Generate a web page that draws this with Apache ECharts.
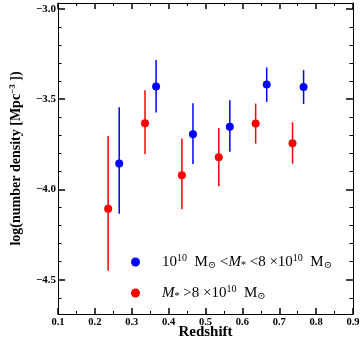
<!DOCTYPE html>
<html>
<head>
<meta charset="utf-8">
<script src="https://cdn.jsdelivr.net/npm/echarts@6/dist/echarts.min.js"></script>
<style>html,body{margin:0;padding:0;background:#fff}#c{width:363px;height:356px}</style>
</head>
<body>
<div id="c"></div>
<script>
// Data
const blueZ    = [0.266, 0.366, 0.466, 0.566, 0.666, 0.766];
const blueLogN = [-3.856, -3.429, -3.694, -3.652, -3.418, -3.433];
const blueLow  = [-4.135, -3.574, -3.859, -3.791, -3.515, -3.526];
const blueHigh = [-3.544, -3.283, -3.522, -3.506, -3.324, -3.339];
const redZ     = [0.236, 0.336, 0.436, 0.536, 0.636, 0.736];
const redLogN  = [-4.107, -3.633, -3.921, -3.822, -3.635, -3.744];
const redLow   = [-4.450, -3.804, -4.109, -3.982, -3.746, -3.857];
const redHigh  = [-3.704, -3.450, -3.718, -3.659, -3.524, -3.628];
const yMajorTicks = [-4.5, -4.0, -3.5, -3.0];
const yMinorTicks = [-4.6, -4.4, -4.3, -4.2, -4.1, -3.9, -3.8, -3.7, -3.6, -3.4, -3.3, -3.2, -3.1];
const blueName = 'blue';
const redName = 'red';

const serif = '"Liberation Serif", "DejaVu Serif", serif';
const BLUE = '#0000ff', RED = '#ff0000';
const yMin = -4.69, yMax = -2.967;

function pts(xs, ys) { return xs.map((x, i) => [x, ys[i]]); }
function bars(xs, lo, hi) { return xs.map((x, i) => [x, lo[i], hi[i]]); }
function errRender(color) {
  return function (params, api) {
    const a = api.coord([api.value(0), api.value(1)]);
    const b = api.coord([api.value(0), api.value(2)]);
    return { type: 'line', shape: { x1: a[0], y1: a[1], x2: b[0], y2: b[1] },
             style: { stroke: color, lineWidth: 1.5 } };
  };
}
const fmtY = v => v.toFixed(1).replace('-', '\u2212');
const baseY = {
  type: 'value', min: yMin, max: yMax, splitLine: { show: false },
  axisLine: { show: true, lineStyle: { color: '#000', width: 1 } }
};

const legendRich = {
  n: { fontFamily: serif, fontSize: 15, color: '#000' },
  it: { fontFamily: serif, fontSize: 15, fontStyle: 'italic', color: '#000' },
  sup: { fontFamily: serif, fontSize: 10, color: '#000', padding: [0, 0, 8, 0] },
  sub: { fontFamily: serif, fontSize: 10, color: '#000', padding: [6, 0, 0, 0] }
};

const chart = echarts.init(document.getElementById('c'), null, { renderer: 'canvas' });
chart.setOption({
  animation: false,
  grid: { left: 51, right: 10, top: 3, bottom: 42, containLabel: false },
  legend: {
    orient: 'vertical', left: 126, top: 248, itemGap: 14,
    itemWidth: 9, itemHeight: 9,
    data: [blueName, redName],
    formatter: function (name) {
      if (name === blueName) return '{n|10}{sup|10}{n|  M}{sub|\u2299}{n| <}{it|M}{sub|*}{n| <8 \u00d710}{sup|10}{n|  M}{sub|\u2299}';
      return '{it|M}{sub|*}{n| >8 \u00d710}{sup|10}{n|  M}{sub|\u2299}';
    },
    textStyle: { rich: legendRich, padding: [0, 0, 0, 17] }
  },
  xAxis: [
    { type: 'value', min: 0.1, max: 0.9, interval: 0.1, position: 'bottom',
      name: 'Redshift', nameLocation: 'middle', nameGap: 11, nameMoveOverlap: false,
      nameTextStyle: { fontFamily: serif, fontSize: 15, fontWeight: 'bold', color: '#000', verticalAlign: 'top' },
      splitLine: { show: false },
      axisLine: { show: true, onZero: false, lineStyle: { color: '#000', width: 1 } },
      axisTick: { show: true, inside: true, length: 6, lineStyle: { color: '#000', width: 1.5 } },
      minorTick: { show: true, splitNumber: 2, length: 3, lineStyle: { color: '#000', width: 1 } },
      axisLabel: { margin: 3, fontFamily: serif, fontSize: 10.5, fontWeight: 'bold', color: '#000',
                   formatter: v => v.toFixed(1) } },
    { type: 'value', min: 0.1, max: 0.9, interval: 0.1, position: 'top',
      splitLine: { show: false },
      axisLine: { show: true, onZero: false, lineStyle: { color: '#000', width: 1 } },
      axisTick: { show: true, inside: true, length: 6, lineStyle: { color: '#000', width: 1.5 } },
      minorTick: { show: true, splitNumber: 2, length: 3, lineStyle: { color: '#000', width: 1 } },
      axisLabel: { show: false } }
  ],
  yAxis: [
    Object.assign({}, baseY, { position: 'left',
      name: '{a|log(number density [Mpc}{s|\u22123}{a| ])}', nameLocation: 'middle', nameGap: 33, nameMoveOverlap: false,
      nameTextStyle: { rich: {
        a: { fontFamily: serif, fontSize: 14, fontWeight: 'bold', color: '#000' },
        s: { fontFamily: serif, fontSize: 9, fontWeight: 'bold', color: '#000', padding: [0, 0, 8, 0] } } },
      axisTick: { show: true, inside: true, length: 7, customValues: yMajorTicks, lineStyle: { color: '#000', width: 1.5 } },
      axisLabel: { margin: 2, customValues: yMajorTicks, fontFamily: serif, fontSize: 11, fontWeight: 'bold', color: '#000', formatter: fmtY } }),
    Object.assign({}, baseY, { position: 'left', axisLine: { show: false },
      axisTick: { show: true, inside: true, length: 3.5, customValues: yMinorTicks, lineStyle: { color: '#000', width: 1 } },
      axisLabel: { show: false } }),
    Object.assign({}, baseY, { position: 'right',
      axisTick: { show: true, inside: true, length: 7, customValues: yMajorTicks, lineStyle: { color: '#000', width: 1.5 } },
      axisLabel: { show: false } }),
    Object.assign({}, baseY, { position: 'right', axisLine: { show: false },
      axisTick: { show: true, inside: true, length: 3.5, customValues: yMinorTicks, lineStyle: { color: '#000', width: 1 } },
      axisLabel: { show: false } })
  ],
  series: [
    { type: 'custom', name: 'blueErr', renderItem: errRender(BLUE), data: bars(blueZ, blueLow, blueHigh),
      encode: { x: 0, y: [1, 2] }, z: 1, silent: true },
    { type: 'custom', name: 'redErr', renderItem: errRender(RED), data: bars(redZ, redLow, redHigh),
      encode: { x: 0, y: [1, 2] }, z: 1, silent: true },
    { type: 'scatter', name: blueName, data: pts(blueZ, blueLogN), symbol: 'circle', symbolSize: 8,
      itemStyle: { color: BLUE, opacity: 1 }, z: 3 },
    { type: 'scatter', name: redName, data: pts(redZ, redLogN), symbol: 'circle', symbolSize: 8,
      itemStyle: { color: RED, opacity: 1 }, z: 3 }
  ]
});
</script>
</body>
</html>
